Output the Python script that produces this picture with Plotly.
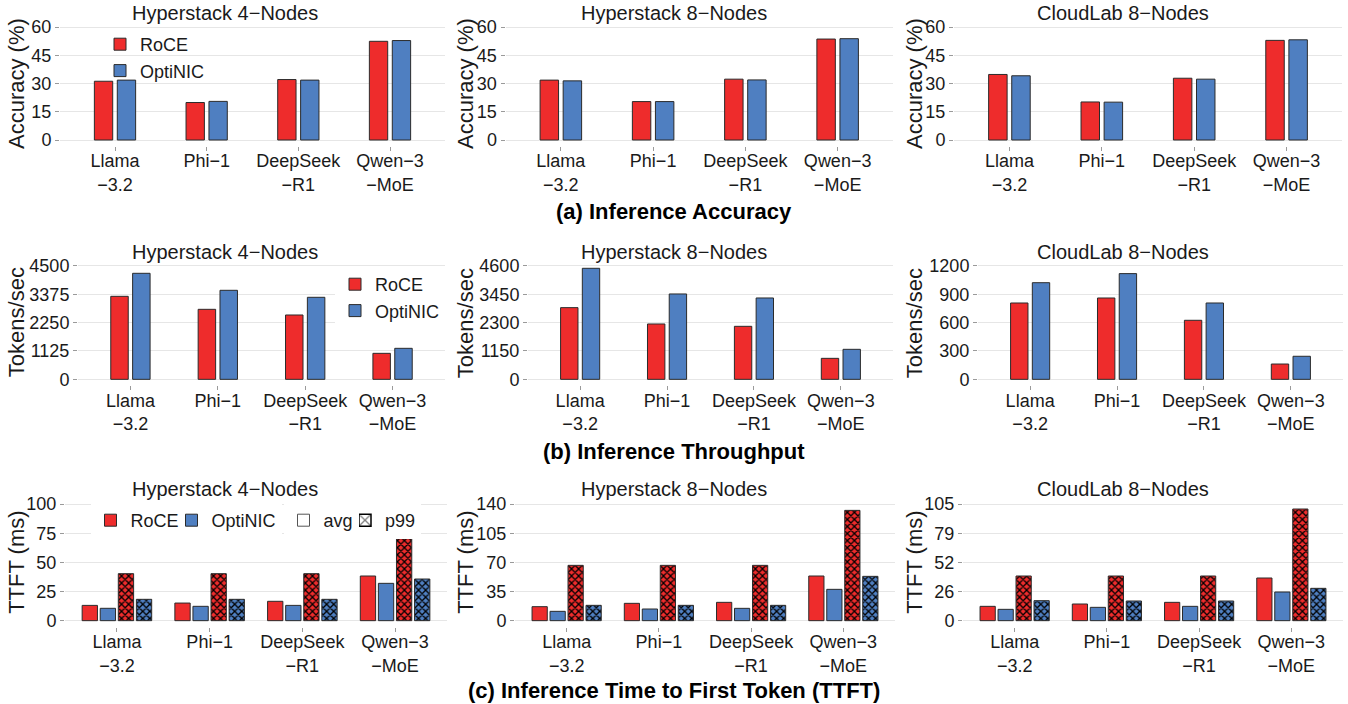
import plotly.graph_objects as go

W, H = 1348, 704

# ---------------- data ----------------
categories = ["Llama−3.2", "Phi−1", "DeepSeek−R1", "Qwen−3−MoE"]
tick_labels = ["Llama<br>−3.2", "Phi−1", "DeepSeek<br>−R1", "Qwen−3<br>−MoE"]
panel_titles = ["Hyperstack 4−Nodes", "Hyperstack 8−Nodes", "CloudLab 8−Nodes"]
section_titles = ["(a) Inference Accuracy", "(b) Inference Throughput",
                  "(c) Inference Time to First Token (TTFT)"]
y_titles = ["Accuracy (%)", "Tokens/sec", "TTFT (ms)"]

# (a) accuracy (%)
acc_roce_hs4 = [31.2, 19.9, 32.1, 52.4]
acc_optinic_hs4 = [31.8, 20.5, 31.8, 52.8]
acc_roce_hs8 = [31.8, 20.4, 32.3, 53.6]
acc_optinic_hs8 = [31.4, 20.4, 31.9, 53.8]
acc_roce_cl8 = [34.8, 20.2, 32.8, 52.9]
acc_optinic_cl8 = [34.1, 20.1, 32.3, 53.2]
acc_ticks = [0, 15, 30, 45, 60]

# (b) throughput (tokens/sec)
tput_roce_hs4 = [3295, 2779, 2554, 1032]
tput_optinic_hs4 = [4209, 3534, 3256, 1231]
tput_roce_hs8 = [2909, 2246, 2151, 852]
tput_optinic_hs8 = [4505, 3464, 3301, 1218]
tput_roce_cl8 = [808, 861, 625, 162]
tput_optinic_cl8 = [1023, 1119, 808, 244]
tput_ticks_hs4 = [0, 1125, 2250, 3375, 4500]
tput_ticks_hs8 = [0, 1150, 2300, 3450, 4600]
tput_ticks_cl8 = [0, 300, 600, 900, 1200]

# (c) TTFT (ms)
ttft_roce_avg_hs4 = [13.1, 15.1, 16.6, 38.3]
ttft_optinic_avg_hs4 = [10.6, 12.3, 13.1, 32.0]
ttft_roce_p99_hs4 = [40.3, 40.3, 40.3, 70.3]
ttft_optinic_p99_hs4 = [18.3, 18.3, 18.3, 35.7]
ttft_roce_avg_hs8 = [16.8, 20.8, 22.0, 53.6]
ttft_optinic_avg_hs8 = [11.2, 14.0, 14.8, 37.6]
ttft_roce_p99_hs8 = [66.4, 66.4, 66.4, 132.4]
ttft_optinic_p99_hs8 = [18.4, 18.4, 18.4, 53.2]
ttft_roce_avg_cl8 = [12.9, 15.0, 16.5, 38.4]
ttft_optinic_avg_cl8 = [10.2, 12.0, 12.9, 25.8]
ttft_roce_p99_cl8 = [40.2, 40.2, 40.2, 100.5]
ttft_optinic_p99_cl8 = [18.0, 17.7, 17.7, 29.1]
ttft_ticks_hs4 = [0, 25, 50, 75, 100]
ttft_ticks_hs8 = [0, 35, 70, 105, 140]
ttft_ticks_cl8 = [0, 26.25, 52.5, 78.75, 105]
ttft_ticklabels_cl8 = ["0", "26", "52", "79", "105"]

# ---------------- style ----------------
RED = "#EE2C2C"
BLUE = "#4F7FC1"
EDGE = "#2b2b2b"
GRID = "#E6E6E6"
FONT = "Liberation Sans, Arial, Helvetica, sans-serif"
TXT = "#1a1a1a"

col_x = {
    0: [(60, 445), (505.5, 893), (954, 1342)],
    1: [(78, 445), (528, 893), (978, 1343)],
    2: [(65, 447), (515, 895), (963, 1343)],
}
row_y = {0: (21.35, 145.65), 1: (260.3, 385.0), 2: (498.2, 626.5)}
x_ranges = {0: [-0.6, 3.6], 1: [-0.6, 3.6], 2: [-0.56, 3.56]}
col_center = [224.5, 673.5, 1122.5]
title_y = [12.7, 251.7, 489.3]
section_y = [211, 451, 690]

fig = go.Figure()
layout = {}


def setup_axes(idx, row, col, ticks, ticktext=None):
    x0, x1 = col_x[row][col]
    top, bottom = row_y[row]
    span = ticks[-1] - ticks[0]
    xa = "xaxis" if idx == 1 else f"xaxis{idx}"
    ya = "yaxis" if idx == 1 else f"yaxis{idx}"
    layout[xa] = dict(
        domain=[x0 / W, x1 / W], anchor=f"y{idx if idx > 1 else ''}",
        type="category", categoryorder="array", categoryarray=categories,
        range=x_ranges[row], tickvals=categories, ticktext=tick_labels,
        showgrid=False, zeroline=False, showline=False,
        ticks="outside", ticklen=4, tickcolor="#9a9a9a", tickwidth=1,
        ticklabelstandoff=-5, automargin=False,
        tickfont=dict(size=18, color=TXT, family=FONT), fixedrange=True,
    )
    layout[ya] = dict(
        domain=[1 - bottom / H, 1 - top / H], anchor=f"x{idx if idx > 1 else ''}",
        range=[ticks[0] - 0.05 * span, ticks[-1] + 0.05 * span],
        tickvals=ticks, ticktext=ticktext if ticktext else [str(t) for t in ticks],
        showgrid=True, gridcolor=GRID, gridwidth=1.2, zeroline=False, showline=False,
        ticks="outside", ticklen=4, tickcolor="#9a9a9a", tickwidth=1, automargin=False,
        tickfont=dict(size=18, color=TXT, family=FONT), fixedrange=True,
    )


def add_bar(idx, name, y, color, offset, width, legend=None, pattern=None):
    xs = "x" if idx == 1 else f"x{idx}"
    ys = "y" if idx == 1 else f"y{idx}"
    marker = dict(color=color, line=dict(color=EDGE, width=1))
    if pattern:
        marker["pattern"] = dict(shape="x", fgcolor="black", bgcolor=color,
                                 size=5, solidity=0.45, fillmode="replace")
    fig.add_trace(go.Bar(
        x=categories, y=y, name=name, xaxis=xs, yaxis=ys,
        offset=offset, width=width, marker=marker,
        showlegend=legend is not None, legend=legend if legend else "legend",
    ))


# rows (a) and (b): two bars per category
two_series = [
    (0, acc_ticks, [(acc_roce_hs4, acc_optinic_hs4), (acc_roce_hs8, acc_optinic_hs8),
                    (acc_roce_cl8, acc_optinic_cl8)]),
    (1, None, [(tput_roce_hs4, tput_optinic_hs4), (tput_roce_hs8, tput_optinic_hs8),
               (tput_roce_cl8, tput_optinic_cl8)]),
]
tput_ticks = [tput_ticks_hs4, tput_ticks_hs8, tput_ticks_cl8]

for row, ticks, panels in two_series:
    for col, (roce, opti) in enumerate(panels):
        idx = row * 3 + col + 1
        t = ticks if ticks else tput_ticks[col]
        setup_axes(idx, row, col, t)
        leg = None
        if col == 0:
            leg = "legend" if row == 0 else "legend2"
        add_bar(idx, "RoCE", roce, RED, -0.225, 0.2, leg)
        add_bar(idx, "OptiNIC", opti, BLUE, 0.025, 0.2, leg)

# legend keys for p99 / avg (no data); added first so that the keys on the
# right are drawn underneath the keys on the left
fig.add_trace(go.Bar(x=[None], y=[None], name="p99", xaxis="x7", yaxis="y7",
                     marker=dict(color="white", line=dict(color="black", width=1.5),
                                 pattern=dict(shape="x", fgcolor="black", bgcolor="white",
                                              size=13, solidity=0.3)),
                     showlegend=True, legend="legend6"))
fig.add_trace(go.Bar(x=[None], y=[None], name="avg", xaxis="x7", yaxis="y7",
                     marker=dict(color="white", line=dict(color="#555555", width=1)),
                     showlegend=True, legend="legend5"))

# row (c): avg + p99
ttft_panels = [
    (ttft_roce_avg_hs4, ttft_optinic_avg_hs4, ttft_roce_p99_hs4, ttft_optinic_p99_hs4,
     ttft_ticks_hs4, None),
    (ttft_roce_avg_hs8, ttft_optinic_avg_hs8, ttft_roce_p99_hs8, ttft_optinic_p99_hs8,
     ttft_ticks_hs8, None),
    (ttft_roce_avg_cl8, ttft_optinic_avg_cl8, ttft_roce_p99_cl8, ttft_optinic_p99_cl8,
     ttft_ticks_cl8, ttft_ticklabels_cl8),
]
W4, STEP = 0.165, 0.195
for col, (ra, oa, rp, op, ticks, tt) in enumerate(ttft_panels):
    idx = 6 + col + 1
    setup_axes(idx, 2, col, ticks, tt)
    add_bar(idx, "OptiNIC", oa, BLUE, -0.375 + STEP, W4, "legend4" if col == 0 else None)
    add_bar(idx, "RoCE", ra, RED, -0.375, W4, "legend3" if col == 0 else None)
    add_bar(idx, "RoCE p99", rp, RED, -0.375 + 2 * STEP, W4, None, pattern=True)
    add_bar(idx, "OptiNIC p99", op, BLUE, -0.375 + 3 * STEP, W4, None, pattern=True)

legfont = dict(size=18, color=TXT, family=FONT)
common_leg = dict(xanchor="left", yanchor="top", font=legfont,
                  itemclick=False, itemdoubleclick=False, visible=True)
layout["legend"] = dict(x=100 / W, y=1 - 26 / H, tracegroupgap=0,
                        bgcolor="rgba(255,255,255,0)", **common_leg)
layout["legend2"] = dict(x=335 / W, y=1 - 266 / H, tracegroupgap=0,
                         bgcolor="white", **common_leg)
row3_leg_x = {"legend3": 90.5, "legend4": 171.5, "legend5": 283.5, "legend6": 345}
for name, lx in row3_leg_x.items():
    layout[name] = dict(x=lx / W, y=1 - 502 / H, orientation="h",
                        bgcolor="white", **common_leg)

annotations = []
for r in range(3):
    for c in range(3):
        annotations.append(dict(
            text=panel_titles[c], x=col_center[c] / W, y=1 - title_y[r] / H,
            xref="paper", yref="paper", xanchor="center", yanchor="middle",
            showarrow=False, font=dict(size=20, color=TXT, family=FONT)))
        top, bottom = row_y[r]
        annotations.append(dict(
            text=y_titles[r], x=(c * 449 + 16.5) / W, y=1 - (top + bottom) / 2 / H,
            xref="paper", yref="paper", xanchor="center", yanchor="middle",
            textangle=-90, showarrow=False, font=dict(size=22, color=TXT, family=FONT)))
    annotations.append(dict(
        text=f"<b>{section_titles[r]}</b>", x=674 / W, y=1 - section_y[r] / H,
        xref="paper", yref="paper", xanchor="center", yanchor="middle",
        showarrow=False, font=dict(size=22, color="black", family=FONT)))

layout.update(dict(
    width=W, height=H, margin=dict(l=0, r=0, t=0, b=0, autoexpand=False),
    paper_bgcolor="white", plot_bgcolor="white", barmode="overlay", showlegend=True,
    font=dict(family=FONT, color=TXT), annotations=annotations,
))
fig.update_layout(**layout)
fig.write_html(
    "out.html", config={"displayModeBar": False},
    post_script="document.body.style.margin='0';document.body.style.overflow='hidden';",
)
